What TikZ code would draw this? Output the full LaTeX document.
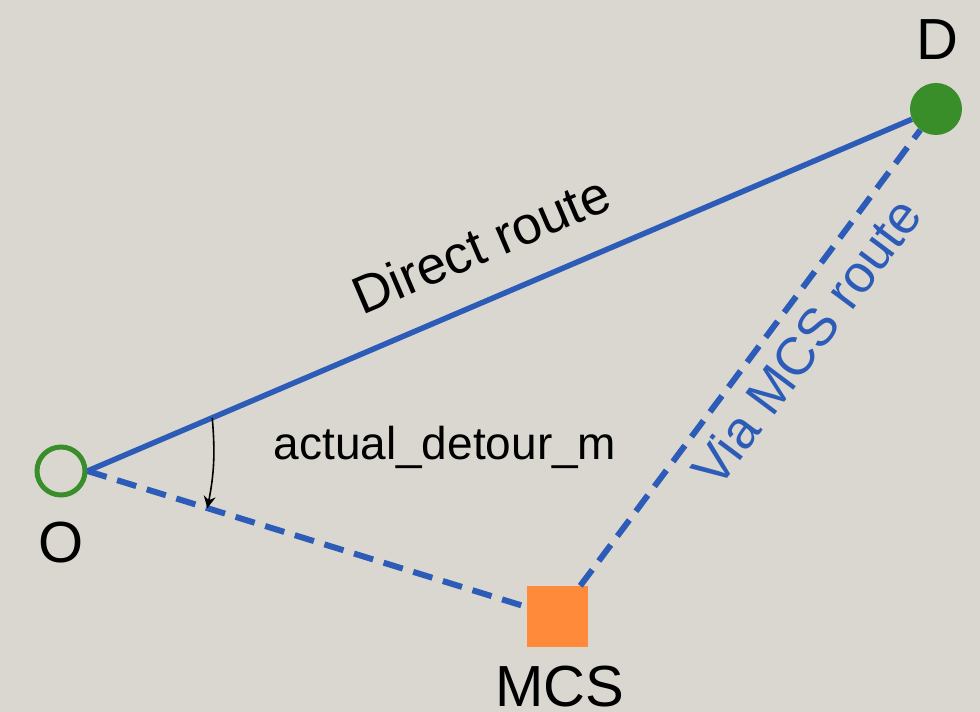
\documentclass[tikz,border=0pt]{standalone}
\usepackage{fontspec}
\setmainfont{Liberation Sans}
\usetikzlibrary{calc,arrows.meta}
\definecolor{bgc}{RGB}{218,215,208}
\definecolor{routeblue}{RGB}{44,92,184}
\definecolor{ptgreen}{RGB}{58,142,42}
\definecolor{mcsorange}{RGB}{255,138,58}
\tikzset{
  lbl/.style={font=\fontsize{58}{60}\selectfont, text=black, inner sep=0pt, anchor=base},
  routelbl/.style={font=\fontsize{53}{55}\selectfont, inner sep=0pt},
  direct/.style={draw=routeblue, line width=5.5pt},
  via/.style={draw=routeblue, line width=6pt, dash pattern=on 20pt off 11pt},
}
\begin{document}
\begin{tikzpicture}[x=1pt,y=1pt]
\fill[bgc] (0,0) rectangle (980,712);
\useasboundingbox (0,0) rectangle (980,712);
\node[circle, draw=ptgreen, line width=5pt, minimum size=48pt, inner sep=0pt] (O) at (61,241) {};
\node[circle, fill=ptgreen, minimum size=52pt, inner sep=0pt] (D) at (936,603) {};
\node[rectangle, fill=mcsorange, minimum size=61pt, inner sep=0pt] (MCS) at (557.5,95.5) {};
\node[lbl] (Olbl) at (61,149) {O};
\node[lbl] (Dlbl) at (937,652) {D};
\node[lbl] (MCSlbl) at (560,5) {MCS};
\draw[direct] (O.east) -- (D);
\draw[via] (O.east) -- (MCS);
\draw[via] (MCS) -- (D);
\node[routelbl, text=black, rotate=23.1] (dlab) at (481,468) {Direct route};
\node[routelbl, text=routeblue, rotate=53.2] (vlab) at (806,370) {Via MCS route};
\node[font=\fontsize{46}{48}\selectfont, inner sep=0pt, anchor=base] (det) at (445,252) {actual\_detour\_m};
\coordinate (a1) at ($(O.east)!0.147!(D.center)$);
\coordinate (a2) at ($(O.east)!0.255!(MCS.center)$);
\draw[line width=1.6pt, -{Stealth[length=12pt,width=12pt]}] (a1) to[bend left=8] (a2);
\end{tikzpicture}
\end{document}
